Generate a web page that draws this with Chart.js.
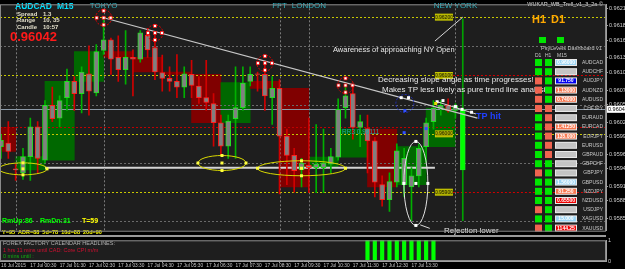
<!DOCTYPE html>
<html>
<head>
<meta charset="utf-8">
<script src="https://cdn.jsdelivr.net/npm/chart.js@4.4.0/dist/chart.umd.min.js"></script>
<style>
html, body { margin: 0; padding: 0; background: #000; }
#wrap { position: relative; width: 625px; height: 269px; background: #000; overflow: hidden; }
#main { position: absolute; left: 0; top: 0; }
#ind { position: absolute; left: 0; top: 235px; }
</style>
</head>
<body>
<div id="wrap">
  <canvas id="main" width="625" height="235"></canvas>
  <canvas id="ind" width="625" height="34"></canvas>
</div>
<script>
// AUDCAD M15, 16 Jul 23:30 -> 17 Jul 15:15 (bar index 0..63)
const opens = [0.95978,0.95984,0.95940,0.95933,0.95961,0.96012,0.95955,0.96049,0.96027,0.96062,
  0.96090,0.96069,0.96103,0.96070,0.96143,0.96161,0.96131,0.96110,0.96131,0.96128,
  0.96169,0.96148,0.96105,0.96095,0.96090,0.96080,0.96102,0.96082,0.96062,0.96052,
  0.96019,0.95979,0.96026,0.96045,0.96090,0.96103,0.96102,0.96062,0.96078,0.95996,
  0.95963,0.95938,0.95946,0.95942,0.95942,0.95948,0.95960,0.96045,0.96069,0.96011,
  0.96009,0.95988,0.95913,0.95887,0.95917,0.95913,0.95909,0.95928,0.95978,0.96021,
  0.96044,0.96049,0.96040,0.95938];
const highs = [0.95999,0.96021,0.95948,0.95975,0.96027,0.96021,0.96057,0.96080,0.96065,0.96111,
  0.96098,0.96115,0.96151,0.96153,0.96199,0.96164,0.96168,0.96177,0.96144,0.96177,
  0.96181,0.96173,0.96135,0.96115,0.96136,0.96115,0.96126,0.96098,0.96126,0.96069,
  0.96032,0.96032,0.96115,0.96115,0.96115,0.96106,0.96121,0.96098,0.96093,0.96008,
  0.95975,0.95958,0.96027,0.96016,0.96008,0.95975,0.96060,0.96083,0.96082,0.96032,
  0.96032,0.95994,0.95928,0.95933,0.95983,0.95975,0.95942,0.95983,0.96027,0.96057,
  0.96057,0.96060,0.96052,0.96197];
const lows = [0.95958,0.95958,0.95920,0.95922,0.95920,0.95933,0.95950,0.96021,0.96012,0.96040,
  0.96040,0.96036,0.96032,0.96065,0.96136,0.96102,0.96090,0.96085,0.96065,0.96123,
  0.96131,0.96093,0.96073,0.96073,0.96062,0.96062,0.96062,0.96052,0.96040,0.95979,
  0.95963,0.95958,0.95958,0.96040,0.96082,0.96073,0.96040,0.96016,0.95897,0.95913,
  0.95900,0.95909,0.95899,0.95899,0.95899,0.95933,0.95955,0.96027,0.95991,0.95978,
  0.95933,0.95892,0.95876,0.95867,0.95909,0.95892,0.95851,0.95909,0.95950,0.96008,
  0.96032,0.96037,0.96027,0.95851];
const closes = [0.95989,0.95970,0.95938,0.95961,0.96012,0.95958,0.96049,0.96026,0.96057,0.96090,
  0.96069,0.96106,0.96073,0.96141,0.96161,0.96128,0.96110,0.96131,0.96128,0.96173,
  0.96144,0.96106,0.96095,0.96090,0.96080,0.96103,0.96083,0.96062,0.96054,0.96019,
  0.95979,0.96022,0.96045,0.96087,0.96102,0.96102,0.96065,0.96078,0.95996,0.95963,
  0.95937,0.95950,0.95942,0.95948,0.95950,0.95961,0.96042,0.96065,0.96011,0.96021,
  0.95988,0.95917,0.95887,0.95918,0.95971,0.95958,0.95928,0.95975,0.96019,0.96044,
  0.96049,0.96040,0.96047,0.96042];

// hourly boxes (first bar index of the hour, open, close)
const boxStart = [-2,2,6,10,14,18,22,26,30,34,38,42,46,50,54,58];
const boxOpen  = [0.96011,0.95938,0.95955,0.96090,0.96141,0.96131,0.96106,0.96102,0.96019,0.96090,0.96078,0.95942,0.95960,0.96008,0.95913,0.95978];
const boxClose = [0.95970,0.95961,0.96090,0.96141,0.96131,0.96106,0.96102,0.96019,0.96088,0.96078,0.95909,0.95960,0.96008,0.95909,0.95978,0.96044];

const priceTicks = [0.96215,0.96185,0.96160,0.96130,0.96105,0.96075,0.96050,0.96020,0.95995,0.95965,0.95940,0.95910,0.95885,0.95855];
const timeTickBars = [0,4,8,12,16,20,24,28,32,36,40,44,48,52,56];
const timeLabels = ['16 Jul 2015','17 Jul 00:30','17 Jul 01:30','17 Jul 02:30','17 Jul 03:30','17 Jul 04:30','17 Jul 05:30',
  '17 Jul 06:30','17 Jul 07:30','17 Jul 08:30','17 Jul 09:30','17 Jul 10:30','17 Jul 11:30','17 Jul 12:30','17 Jul 13:30'];

const bid = 0.96042;
const roundLevels = [0.96200,0.96100,0.96000,0.95900];
const gridPrices = [0.96150,0.96050,0.95950,0.95850];
const sessionBars = [2,14,38,42,62];
const sessionNames = ['','TOKYO','FFT','LONDON','NEW YORK'];
const swingBars = [14,21,36,47];

const signalBars = [50,51,52,53,54,55,56,57,58,59];
const signalValues = [1,1,1,1,1,1,1,1,1,1];

// trend line and hand-drawn notes (bar index, price)
const trendX = [14,65], trendY = [0.96199,0.96027];
const slopeX = [59.5,64.8], slopeY = [0.96055,0.96034];
const noteX = [59.2,63], noteY = [0.96159,0.96200];
const rejX = [57.2,58.5], rejY = [0.95844,0.95838];
const supportX = [6,59.2], supportY = [0.95942,0.95942];

const symbols = ['AUDCAD','AUDCHF','AUDJPY','AUDNZD','AUDUSD','CHFJPY','EURAUD','EURCAD','EURJPY','EURUSD','GBPAUD','GBPCHF','GBPJPY','GBPUSD','NZDJPY','NZDUSD','USDJPY','XAGUSD','XAUUSD'];
const d1State = ['g','g','r','r','r','r','g','g','g','g','g','g','r','g','g','g','r','g','r'];
const h1State = ['g','g','g','g','g','r','r','r','r','r','r','g','g','g','g','g','g','g','g'];
const m15Kind = ['lb','gr','bl','or','or','gr','gr','or','or','gr','gr','gr','gr','lb','or','rd','gr','lb','rd'];
const m15Text = ['0.96000','','91.750','1.13000','0.74000','','','1.41250','135.000','','','','','1.56000','81.250','0.65500','','15.000','1144.25'];

const FONT = "'Liberation Sans', Arial, sans-serif";
const xMin = -0.136, xMax = 82.54;
const yMin = 0.95834, yMax = 0.96222;
const axisW = 19;
const pxPerBar = (625 - axisW) / (xMax - xMin);
const BG = '#1e1e1e';

const n = opens.length;
const isUp = opens.map((o, i) => closes[i] >= o);

function line(ctx, x1, y1, x2, y2, color, w, dash) {
  ctx.save();
  ctx.strokeStyle = color; ctx.lineWidth = w || 1;
  ctx.setLineDash(dash || []);
  ctx.beginPath(); ctx.moveTo(x1, y1); ctx.lineTo(x2, y2); ctx.stroke();
  ctx.restore();
}
function txt(ctx, s, x, y, color, font, align) {
  ctx.save();
  ctx.fillStyle = color; ctx.font = font;
  ctx.textAlign = align || 'left'; ctx.textBaseline = 'middle';
  ctx.fillText(s, x, y);
  ctx.restore();
}
function dot(ctx, x, y, fill, stroke) {
  ctx.save();
  ctx.fillStyle = fill; ctx.fillRect(x - 1.5, y - 1.5, 3, 3);
  if (stroke) { ctx.strokeStyle = stroke; ctx.lineWidth = 0.7; ctx.strokeRect(x - 1.5, y - 1.5, 3, 3); }
  ctx.restore();
}
function ellipse(ctx, cx, cy, rx, ry, color, dash, dots) {
  ctx.save();
  ctx.strokeStyle = color; ctx.lineWidth = 1; ctx.setLineDash(dash || []);
  ctx.beginPath(); ctx.ellipse(cx, cy, rx, ry, 0, 0, Math.PI * 2); ctx.stroke();
  ctx.restore();
  if (dots) {
    [[cx, cy], [cx, cy - ry], [cx, cy + ry], [cx - rx, cy], [cx + rx, cy]].forEach(p => dot(ctx, p[0], p[1], dots));
  }
}

const bgPlugin = {
  id: 'bg',
  beforeDraw(chart) {
    const { ctx, chartArea: a } = chart;
    ctx.save();
    ctx.fillStyle = '#000'; ctx.fillRect(0, 0, chart.width, chart.height);
    ctx.fillStyle = BG; ctx.fillRect(a.left, a.top, a.right - a.left, a.bottom - a.top);
    ctx.restore();
  }
};

// levels and grid go over the hourly boxes but under the candles
const levelPlugin = {
  id: 'levels',
  beforeDatasetDraw(chart, args) {
    if (args.index !== 1) return;
    const { ctx, chartArea: a, scales: { x, y } } = chart;
    gridPrices.forEach(p => line(ctx, a.left, Math.round(y.getPixelForValue(p)) + 0.5, a.right, Math.round(y.getPixelForValue(p)) + 0.5, '#6a6a6a', 1, [2, 2]));
    sessionBars.forEach(b => { const px = Math.round(x.getPixelForValue(b)) + 0.5; line(ctx, px, a.top, px, a.bottom, '#7a7a7a', 1, [2, 2]); });
    const lx = x.getPixelForValue(59.2);
    roundLevels.forEach((p, i) => {
      const py = Math.round(y.getPixelForValue(p)) + 0.5;
      const full = (i === 0 || i === 2);
      line(ctx, a.left, py, full ? a.right : lx, py, '#c8c800', 1, [2, 2]);
      if (!full) line(ctx, lx + 18, py, a.right, py, '#d00000', 1, [2, 2]);
    });
    const pr = Math.round(y.getPixelForValue(0.96011)) + 0.5;
    line(ctx, a.left, pr, a.right, pr, '#c00000', 1, [2, 2]);
    const pb = Math.round(y.getPixelForValue(bid)) + 0.5;
    line(ctx, a.left, pb, a.right, pb, '#8c9aa8', 1);
  }
};

const overlayPlugin = {
  id: 'overlay',
  afterDraw(chart) {
    const { ctx, chartArea: a, scales: { x, y } } = chart;
    const X = v => x.getPixelForValue(v), Y = v => y.getPixelForValue(v);

    // round level tags
    const lx = X(59.2);
    roundLevels.forEach(p => {
      const py = Y(p);
      ctx.fillStyle = '#c8c800'; ctx.fillRect(lx, py - 3.5, 18, 7);
      ctx.fillStyle = '#a8a800'; ctx.fillRect(lx + 1, py - 2.5, 16, 5);
      txt(ctx, p.toFixed(5), lx + 9, py, '#202000', '5px ' + FONT, 'center');
    });

    // swing high circles
    swingBars.forEach(b => {
      const cx = X(b), cy = Y(highs[b]);
      ellipse(ctx, cx, cy, 8, 8, '#e00000', [2, 1.5]);
      [[0, 0], [0, -7], [0, 7], [-7, 0], [7, 0]].forEach(d => dot(ctx, cx + d[0], cy + d[1], '#ffffff', '#ff0000'));
    });

    ellipse(ctx, X(3), Y(0.95940), 24, 6, '#d8d800', [], '#ffff40');
    ellipse(ctx, X(30.15), Y(0.95950), 24, 7.5, '#d8d800', [], '#ffff40');
    ellipse(ctx, X(41), Y(0.95941), 44, 7.5, '#d8d800', [], '#ffff40');
    ellipse(ctx, X(56.6), Y(0.95915), 12, 42, '#e0e0e0', [], '#ffffff');
    ellipse(ctx, X(55.1), Y(0.96052), 9, 9, '#2030c0', [2, 1.5]);
    dot(ctx, X(54.6), Y(0.96062), '#ffffff'); dot(ctx, X(55.6), Y(0.96062), '#ffffff');
    dot(ctx, X(55.1), Y(0.96040), '#3050ff');
    dot(ctx, X(55), Y(0.96002), '#3050ff'); dot(ctx, X(58), Y(0.96009), '#3050ff');
    [[59.5, 0.96055], [60.3, 0.96057], [62, 0.96047], [62.9, 0.96042], [64.2, 0.96037]].forEach(p => dot(ctx, X(p[0]), Y(p[1]), '#ffffff'));
    dot(ctx, X(59.3), Y(0.96052), '#e0e000');

    // session names
    sessionNames.forEach((s, i) => { if (s) txt(ctx, s, X(sessionBars[i]), 6, '#2fb4c4', '8px ' + FONT, 'center'); });

    // symbol header
    txt(ctx, 'AUDCAD', 15, 7, '#00e0ff', 'bold 8.5px ' + FONT);
    txt(ctx, 'M15', 57, 7, '#00e0ff', 'bold 8.5px ' + FONT);
    const hf = 'bold 6px ' + FONT, hc = '#e0dcc8';
    txt(ctx, 'Spread', 17, 14, hc, hf); txt(ctx, '1.3', 43, 14, hc, hf);
    txt(ctx, 'Range', 17, 20.5, hc, hf); txt(ctx, '10, 35', 43, 20.5, hc, hf);
    txt(ctx, 'Candle', 17, 27, hc, hf); txt(ctx, '10:57', 43, 27, hc, hf);
    txt(ctx, bid.toFixed(5), 10, 37, '#ff1a1a', 'bold 13px ' + FONT);

    // notes
    const nf = '7.5px ' + FONT, nc = '#e8e8e8';
    txt(ctx, 'Awareness of approaching NY Open', 333, 50, nc, nf);
    txt(ctx, 'Decreasing slope angle as time progresses!', 378, 80, nc, '8px ' + FONT);
    txt(ctx, 'Makes TP less likely as pure trend line analysis', 382, 90, nc, '8px ' + FONT);
    txt(ctx, 'TP hit', 476, 117, '#2040ff', 'bold 9px ' + FONT);
    txt(ctx, 'RR3 0.96111', 342, 132, '#20a8a8', '6.5px ' + FONT);
    txt(ctx, 'Rejection lower', 444, 231, nc, '8px ' + FONT);

    // bottom-left stats
    txt(ctx, 'RmUp:86', 2, 221, '#00ff00', 'bold 7px ' + FONT);
    txt(ctx, 'RmDn:31', 40, 221, '#00ff00', 'bold 7px ' + FONT);
    txt(ctx, 'T=59', 82, 221, '#ffff00', 'bold 7px ' + FONT);
    txt(ctx, 'Y=95  ADR=88  5d=78  10d=88  20d=90', 2, 232, '#ffff00', 'bold 5.5px ' + FONT);

    // dashboard
    txt(ctx, 'WUKAR_WB_Trell_v1_3_2a \u00a9', 603, 4, '#e0e0e0', '5.5px ' + FONT, 'right');
    txt(ctx, 'H1', 532, 20, '#ffa800', 'bold 11px ' + FONT);
    txt(ctx, 'D1', 551, 20, '#ffa800', 'bold 11px ' + FONT);
    ctx.fillStyle = '#00e600'; ctx.fillRect(539, 37, 7, 6); ctx.fillRect(557, 37, 7, 6);
    txt(ctx, 'PsyLevels Dashboard v1', 541, 48, '#c8c8c8', '5.5px ' + FONT);
    txt(ctx, 'D1', 535, 55.5, '#c8c8c8', '5px ' + FONT);
    txt(ctx, 'H1', 545, 55.5, '#c8c8c8', '5px ' + FONT);
    txt(ctx, 'M15', 557, 55.5, '#c8c8c8', '5px ' + FONT);
    const st = { g: '#00e600', r: '#f06450' };
    const mk = { lb: '#9ad4f4', gr: '#c4c4c4', bl: '#0000f0', or: '#f87850', rd: '#f00000' };
    symbols.forEach((s, i) => {
      const ty = 59 + i * 9.2;
      ctx.fillStyle = st[d1State[i]]; ctx.fillRect(535, ty, 7, 7);
      ctx.fillStyle = st[h1State[i]]; ctx.fillRect(545, ty, 7, 7);
      ctx.fillStyle = '#e8e8e8'; ctx.fillRect(555, ty, 22, 7);
      ctx.fillStyle = mk[m15Kind[i]]; ctx.fillRect(556, ty + 1, 20, 5);
      if (m15Text[i]) txt(ctx, m15Text[i], 566, ty + 3.6, '#ffffff', 'bold 5px ' + FONT, 'center');
      txt(ctx, s, 603, ty + 3.6, '#c8c8c8', '5px ' + FONT, 'right');
    });

    // bid tag on price axis
    const pb = Y(bid);
    ctx.fillStyle = '#ffffff'; ctx.fillRect(a.right + 1, pb - 3.5, 19, 7);
    txt(ctx, bid.toFixed(5), a.right + 2, pb, '#000000', '5.5px ' + FONT);

    // frame
    ctx.save(); ctx.strokeStyle = '#8a8a8a'; ctx.lineWidth = 1;
    ctx.strokeRect(a.left + 0.5, a.top + 0.5, a.right - a.left - 1, a.bottom - a.top);
    ctx.restore();
  }
};

const wickColors = isUp.map((u, i) => i === n - 1 ? '#00a000' : (u ? '#00b000' : '#d00000'));
const bodyBorders = isUp.map(u => u ? '#20e020' : '#ff2020');
const bodyFills = isUp.map((u, i) => i === n - 1 ? '#00ff00' : '#808080');

const lineSet = (xs, ys, color, w) => ({
  type: 'line', data: xs.map((v, i) => ({ x: v, y: ys[i] })), borderColor: color, borderWidth: w,
  pointRadius: 0, order: 0, clip: false
});

new Chart(document.getElementById('main'), {
  type: 'bar',
  data: {
    datasets: [
      { data: boxStart.map((b, i) => ({ x: b + 2, y: [boxOpen[i], boxClose[i]] })),
        backgroundColor: boxStart.map((b, i) => boxClose[i] >= boxOpen[i] ? '#006800' : '#800000'),
        barThickness: 4 * pxPerBar, grouped: false, order: 5 },
      { data: lows.map((l, i) => ({ x: i, y: [l, highs[i]] })), backgroundColor: wickColors,
        barThickness: 1, grouped: false, order: 3 },
      { data: opens.map((o, i) => ({ x: i, y: [o, closes[i]] })), backgroundColor: bodyFills,
        borderColor: bodyBorders, borderWidth: 1, borderSkipped: false, barThickness: 5, grouped: false, order: 2 },
      lineSet(trendX, trendY, '#c8c8c8', 1.2),
      lineSet(slopeX, slopeY, '#d8d8d8', 1),
      lineSet(noteX, noteY, '#d8d8d8', 1),
      lineSet(rejX, rejY, '#d8d8d8', 1),
      Object.assign(lineSet(supportX, supportY, '#d4d4d4', 2), { order: 4 })
    ]
  },
  options: {
    responsive: false, animation: false, events: [],
    layout: { padding: 0, autoPadding: false },
    plugins: { legend: { display: false }, tooltip: { enabled: false } },
    scales: {
      x: { type: 'linear', min: xMin, max: xMax, offset: false, display: false },
      y: {
        position: 'right', min: yMin, max: yMax,
        afterFit: s => { s.width = axisW; },
        afterBuildTicks: s => { s.ticks = priceTicks.map(v => ({ value: v })); },
        ticks: { callback: v => Number(v).toFixed(5), font: { size: 5.5, family: FONT }, color: '#d0d0d0', padding: 1 },
        grid: { drawOnChartArea: false, drawTicks: true, tickLength: 2, color: '#a0a0a0' },
        border: { color: '#a0a0a0' }
      }
    }
  },
  plugins: [bgPlugin, levelPlugin, overlayPlugin]
});

const indPlugin = {
  id: 'ind',
  beforeDraw(chart) {
    const { ctx } = chart;
    ctx.fillStyle = '#9a9a9a'; ctx.fillRect(0, 0, 606, 2);
  },
  afterDraw(chart) {
    const { ctx, chartArea: a } = chart;
    txt(ctx, 'FOREX FACTORY CALENDAR HEADLINES:', 3, 8, '#b0b0b0', '5.5px ' + FONT);
    txt(ctx, '1 hrs 11 mins until CAD: Core CPI m/m', 3, 15, '#d01030', '5.5px ' + FONT);
    txt(ctx, '0 mins until :', 3, 21.5, '#10b010', '5.5px ' + FONT);
    ctx.save(); ctx.strokeStyle = '#8a8a8a'; ctx.lineWidth = 1;
    ctx.strokeRect(a.left + 0.5, a.top + 0.5, a.right - a.left - 1, a.bottom - a.top - 1);
    ctx.restore();
  }
};

new Chart(document.getElementById('ind'), {
  type: 'bar',
  data: {
    datasets: [{ data: signalBars.map((b, i) => ({ x: b, y: signalValues[i] })), backgroundColor: '#00ff00',
      barThickness: 3.5, grouped: false }]
  },
  options: {
    responsive: false, animation: false, events: [],
    layout: { padding: { top: 2 }, autoPadding: false },
    plugins: { legend: { display: false }, tooltip: { enabled: false } },
    scales: {
      x: {
        type: 'linear', min: xMin, max: xMax, offset: false,
        afterFit: s => { s.height = 8; },
        afterBuildTicks: s => { s.ticks = timeTickBars.map(v => ({ value: v })); },
        ticks: { callback: (v, i) => timeLabels[i], align: 'start', maxRotation: 0, autoSkip: false,
          font: { size: 4.8, family: FONT }, color: '#c8c8c8', padding: 0 },
        grid: { drawOnChartArea: false, tickLength: 2, color: '#a0a0a0' },
        border: { color: '#a0a0a0' }
      },
      y: {
        position: 'right', min: 0, max: 1,
        afterFit: s => { s.width = axisW; },
        afterBuildTicks: s => { s.ticks = [{ value: 1 }, { value: 0 }]; },
        ticks: { font: { size: 5.5, family: FONT }, color: '#d0d0d0', padding: 2 },
        grid: { drawOnChartArea: false, tickLength: 0, color: '#a0a0a0' },
        border: { color: '#a0a0a0' }
      }
    }
  },
  plugins: [bgPlugin, indPlugin]
});
</script>
</body>
</html>
